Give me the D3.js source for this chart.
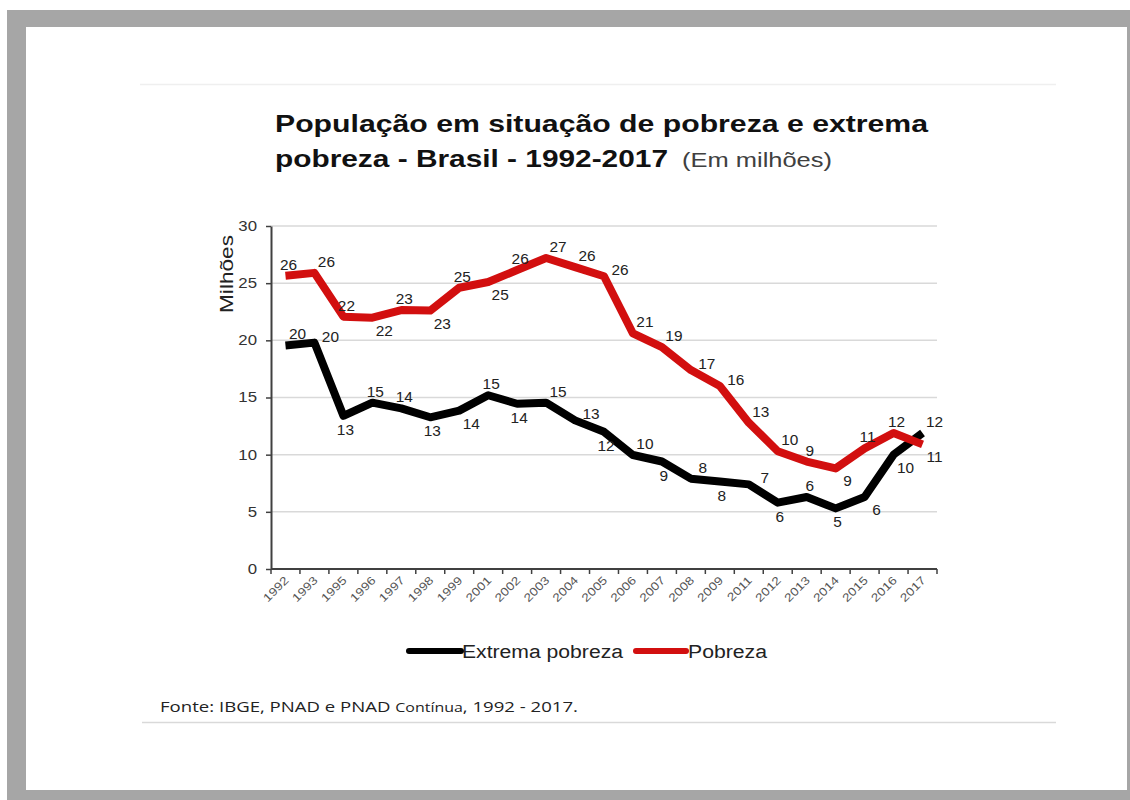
<!DOCTYPE html>
<html>
<head>
<meta charset="utf-8">
<script src="https://cdn.jsdelivr.net/npm/d3@7"></script>
<style>
  html, body { margin: 0; padding: 0; background: #fff; }
  svg { display: block; }
</style>
</head>
<body>
<svg width="1130" height="800"></svg>
<script>
/* globals d3 */

const years = ['1992', '1993', '1995', '1996', '1997', '1998', '1999', '2001', '2002', '2003', '2004',
    '2005', '2006', '2007', '2008', '2009', '2011', '2012', '2013', '2014', '2015', '2016', '2017'];

// Extrema pobreza (milhões)
const extrema = [19.55, 19.8, 13.4, 14.55, 14.05, 13.27, 13.85, 15.2, 14.45, 14.55, 13.0,
    12.0, 9.97, 9.4, 7.9, 7.65, 7.4, 5.8, 6.3, 5.3, 6.3, 10.0, 11.9];

// Pobreza (milhões)
const pobreza = [25.65, 25.9, 22.07, 21.98, 22.65, 22.6, 24.6, 25.1, 26.15, 27.2, 26.4,
    25.6, 20.6, 19.4, 17.4, 16.0, 12.8, 10.3, 9.4, 8.8, 10.55, 11.9, 10.9];

// onde fica o rótulo de cada ponto
const extremaPos = ['ne', 'e', 's', 'n', 'n', 's', 'se', 'n', 's', 'ne', 'e',
    's', 'ne', 's', 'ne', 's', 'e', 's', 'n', 's', 'se', 'se', 'ne'];
const pobrezaPos = ['n', 'ne', 'n', 'se', 'n', 'se', 'n', 'se', 'n', 'ne', 'ne',
    'e', 'ne', 'ne', 'e', 'e', 'ne', 'ne', 'n', 'se', 'n', 'n', 'se'];

const yTicks = [0, 5, 10, 15, 20, 25, 30];

const seriesNames = ['Extrema pobreza', 'Pobreza'];
const seriesColors = ['#000000', '#d20f0f'];

const svg = d3.select('body svg');
const FONT = '"Liberation Sans", Arial, sans-serif';

// moldura cinza
svg.append('rect').attr('x', 7).attr('y', 10).attr('width', 1140).attr('height', 800).attr('fill', '#a6a6a6');
svg.append('rect').attr('x', 26).attr('y', 27).attr('width', 1101).attr('height', 763).attr('fill', '#ffffff');

svg.append('line').attr('x1', 140).attr('x2', 1056).attr('y1', 84.5).attr('y2', 84.5)
.attr('stroke', '#efefef').attr('stroke-width', 1.5);
svg.append('line').attr('x1', 142).attr('x2', 1056).attr('y1', 722.5).attr('y2', 722.5)
.attr('stroke', '#d9d9d9').attr('stroke-width', 1.5);

// estica o texto na horizontal
function widen(sel, k) {
    sel.each(function () {
        const w = this.getComputedTextLength();
        d3.select(this).attr('textLength', w * k).attr('lengthAdjust', 'spacingAndGlyphs');
    });
}

// título
svg.append('text')
.attr('x', 275).attr('y', 132)
.attr('font-family', FONT).attr('font-size', 24).attr('font-weight', 'bold').attr('fill', '#111')
.attr('textLength', 653).attr('lengthAdjust', 'spacingAndGlyphs')
.text('População em situação de pobreza e extrema');
svg.append('text')
.attr('x', 275).attr('y', 167)
.attr('font-family', FONT).attr('font-size', 24).attr('font-weight', 'bold').attr('fill', '#111')
.attr('textLength', 393).attr('lengthAdjust', 'spacingAndGlyphs')
.text('pobreza - Brasil - 1992-2017');
svg.append('text')
.attr('x', 682).attr('y', 167)
.attr('font-family', FONT).attr('font-size', 21).attr('fill', '#404040')
.attr('textLength', 150).attr('lengthAdjust', 'spacingAndGlyphs')
.text('(Em milhões)');

// escalas
const x = d3.scaleBand().domain(years).range([271, 937]).padding(0);
const y = d3.scaleLinear().domain([0, 30]).range([569, 226]);
const cx = d => x(d) + x.bandwidth() / 2;

// grade
svg.append('g')
.selectAll('line')
.data(yTicks.filter(t => t > 0))
.enter().append('line')
.attr('x1', 271).attr('x2', 937)
.attr('y1', d => y(d)).attr('y2', d => y(d))
.attr('stroke', '#d9d9d9').attr('stroke-width', 1.5);

// eixo y
const yAxis = svg.append('g')
.attr('transform', 'translate(271,0)')
.call(d3.axisLeft(y).tickValues(yTicks).tickSize(5).tickPadding(9).tickSizeOuter(0));
yAxis.select('.domain').attr('stroke', '#404040').attr('stroke-width', 2);
yAxis.selectAll('.tick line').attr('stroke', '#404040').attr('stroke-width', 1.5);
yAxis.selectAll('.tick text').attr('font-family', FONT).attr('font-size', 14).attr('fill', '#333');
widen(yAxis.selectAll('.tick text'), 1.2);

svg.append('text')
.attr('transform', 'translate(233,274) rotate(-90)')
.attr('text-anchor', 'middle')
.attr('font-family', FONT).attr('font-size', 18).attr('fill', '#222')
.attr('textLength', 78).attr('lengthAdjust', 'spacingAndGlyphs')
.text('Milhões');

// eixo x
svg.append('line').attr('x1', 271).attr('x2', 937).attr('y1', 569).attr('y2', 569)
.attr('stroke', '#404040').attr('stroke-width', 2);
svg.append('g')
.selectAll('line')
.data(years.map(v => x(v)).concat([x.range()[1]]))
.enter().append('line')
.attr('x1', d => d).attr('x2', d => d)
.attr('y1', 569).attr('y2', 574)
.attr('stroke', '#404040').attr('stroke-width', 1.5);

const xLabels = svg.append('g')
.selectAll('text')
.data(years)
.enter().append('text')
.attr('transform', d => 'translate(' + (cx(d) + 4) + ',581) rotate(-45)')
.attr('text-anchor', 'end')
.attr('font-family', FONT).attr('font-size', 11.5).attr('fill', '#555')
.text(d => d);
widen(xLabels, 1.2);

// linhas
const line = d3.line()
.x((d, i) => cx(years[i]))
.y(d => y(d));

[extrema, pobreza].forEach((vals, s) => {
    svg.append('path')
    .datum(vals)
    .attr('d', line)
    .attr('fill', 'none')
    .attr('stroke', seriesColors[s])
    .attr('stroke-width', 8)
    .attr('stroke-linejoin', 'round')
    .attr('stroke-linecap', 'butt');
});

// rótulos dos pontos
const offsets = {
    n: [3, -11],
    ne: [12, -11],
    e: [16, -6],
    s: [2, 14],
    se: [12, 13]
};

[[extrema, extremaPos], [pobreza, pobrezaPos]].forEach(([vals, pos]) => {
    const lbl = svg.append('g')
    .selectAll('text')
    .data(vals)
    .enter().append('text')
    .attr('x', (d, i) => cx(years[i]) + offsets[pos[i]][0])
    .attr('y', (d, i) => y(d) + offsets[pos[i]][1] + 5)
    .attr('text-anchor', 'middle')
    .attr('font-family', FONT).attr('font-size', 14).attr('fill', '#222')
    .text(d => Math.round(d));
    widen(lbl, 1.1);
});

// legenda
const legend = [
    {name: seriesNames[0], color: seriesColors[0], x1: 409, x2: 461, tx: 462, tw: 161},
    {name: seriesNames[1], color: seriesColors[1], x1: 636, x2: 686, tx: 688, tw: 79}
];
legend.forEach(l => {
    svg.append('line')
    .attr('x1', l.x1).attr('x2', l.x2).attr('y1', 651).attr('y2', 651)
    .attr('stroke', l.color).attr('stroke-width', 6).attr('stroke-linecap', 'round');
    svg.append('text')
    .attr('x', l.tx).attr('y', 657.5)
    .attr('font-family', FONT).attr('font-size', 18).attr('fill', '#222')
    .attr('textLength', l.tw).attr('lengthAdjust', 'spacingAndGlyphs')
    .text(l.name);
});

// fonte
const fonte = svg.append('text')
.attr('x', 160).attr('y', 712)
.attr('font-family', '"Open Sans", "Noto Sans", sans-serif').attr('font-size', 14).attr('fill', '#222')
.attr('textLength', 418).attr('lengthAdjust', 'spacingAndGlyphs');
fonte.append('tspan').text('Fonte: IBGE, PNAD e PNAD ');
fonte.append('tspan').attr('font-size', 12).text('Contínua');
fonte.append('tspan').text(', 1992 - 2017.');
</script>
</body>
</html>
